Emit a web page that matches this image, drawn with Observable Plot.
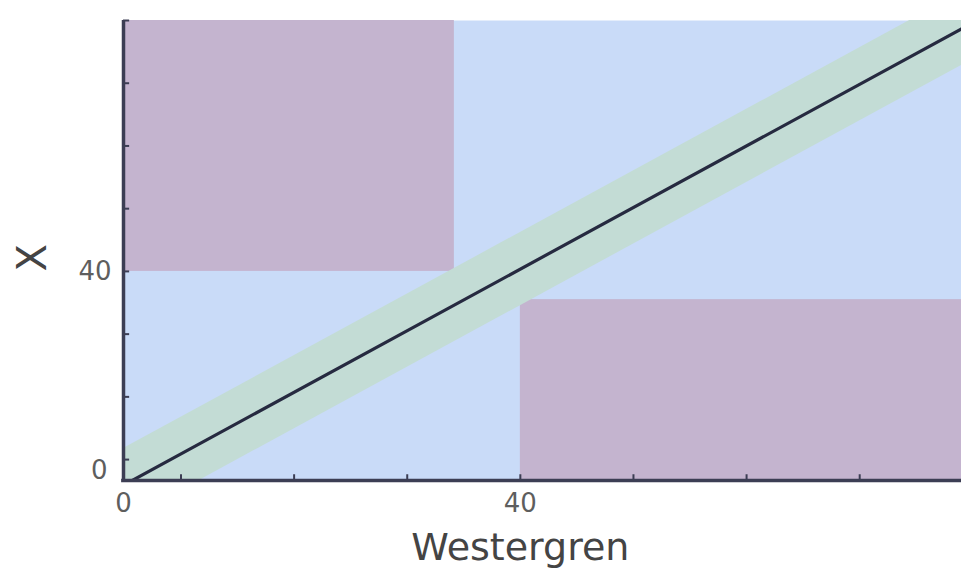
<!DOCTYPE html>
<html>
<head>
<meta charset="utf-8">
<script src="https://cdn.jsdelivr.net/npm/d3@7"></script>
<script src="https://cdn.jsdelivr.net/npm/@observablehq/plot@0.6"></script>
<style>
  html, body { margin: 0; padding: 0; background: #ffffff; }
  #chart svg { display: block; }
</style>
</head>
<body>
<div id="chart"></div>
<script>
// ---- data ----
const xDomain = [-2.1, 86.8];
const yDomain = [0, 88];

// identity-like reference line (Westergren vs X)
const lineX = [-2.1, 86.8];
const lineY = [-0.9, 86.4];
// agreement band around the line
const bandLower = [-7.9, 79.4];
const bandUpper = [6.1, 93.4];

// discordant regions
const regionX1 = [-2.1, 40];
const regionX2 = [33, 86.8];
const regionY1 = [40, 0];
const regionY2 = [88, 34.6];

// ticks
const xMinorTicks = [4, 16, 28, 40, 52, 64, 76];
const yMinorTicks = [4, 16, 28, 40, 52, 64, 76, 88];
const xTickValues = [-2.1, 40];
const xTickLabels = ["0", "40"];
const yTickValues = [0, 40];
const yTickLabels = ["0", "40"];

const xTitle = "Westergren";
const yTitle = "X";

// ---- tables built from the arrays ----
const lineData = lineX.map((x, i) => ({x, y: lineY[i], lo: bandLower[i], hi: bandUpper[i]}));
const regions = regionX1.map((x1, i) => ({x1, x2: regionX2[i], y1: regionY1[i], y2: regionY2[i]}));
const xLabels = xTickValues.map((v, i) => ({v, t: xTickLabels[i]}));
const yLabels = yTickValues.map((v, i) => ({v, t: yTickLabels[i]}));

const axisColor = "#3c3e54";
const labelColor = "#5e5e5e";

const chart = Plot.plot({
  width: 961,
  height: 577,
  marginTop: 20,
  marginBottom: 97,
  marginLeft: 123,
  marginRight: 0,
  style: {fontFamily: "DejaVu Sans, Verdana, sans-serif", background: "#ffffff"},
  x: {domain: xDomain, axis: null},
  y: {domain: yDomain, axis: null},
  marks: [
    Plot.frame({fill: "#c9dbf8", stroke: null}),
    Plot.rect(regions, {x1: "x1", x2: "x2", y1: "y1", y2: "y2", fill: "#c4b4cf"}),
    Plot.areaY(lineData, {x: "x", y1: "lo", y2: "hi", fill: "#c3dcd5", clip: true}),
    Plot.line(lineData, {x: "x", y: "y", stroke: "#262a40", strokeWidth: 3.2, clip: true}),
    // minor tick marks (inward)
    Plot.ruleX(xMinorTicks, {x: d => d, y1: 0, y2: 1.1, stroke: axisColor, strokeWidth: 2}),
    Plot.ruleY(yMinorTicks, {y: d => d, x1: xDomain[0], x2: xDomain[0] + 0.65, stroke: axisColor, strokeWidth: 2}),
    // axis lines
    Plot.ruleY([yDomain[0]], {x1: xDomain[0] - 0.2, x2: xDomain[1], stroke: axisColor, strokeWidth: 3.5}),
    Plot.ruleX([xDomain[0]], {y1: yDomain[0], y2: yDomain[1], stroke: axisColor, strokeWidth: 3.5}),
    // tick labels
    Plot.text(xLabels, {x: "v", text: "t", frameAnchor: "bottom", lineAnchor: "top", dy: 13, fontSize: 26, fill: labelColor}),
    Plot.text(yLabels.filter(d => d.v !== 0), {y: "v", text: "t", frameAnchor: "left", textAnchor: "end", dx: -12, fontSize: 26, fill: labelColor}),
    Plot.text(yLabels.filter(d => d.v === 0), {y: "v", text: "t", frameAnchor: "left", textAnchor: "end", dx: -16, dy: -10, fontSize: 26, fill: labelColor}),
    // axis titles
    Plot.text([xTitle], {x: 40, frameAnchor: "bottom", dy: 79, fontSize: 38, fill: "#444444"}),
    Plot.text([yTitle], {y: 40, frameAnchor: "left", dx: -90, rotate: -90, fontSize: 40, fill: "#444444"})
  ]
});

document.getElementById("chart").append(chart);
</script>
</body>
</html>
